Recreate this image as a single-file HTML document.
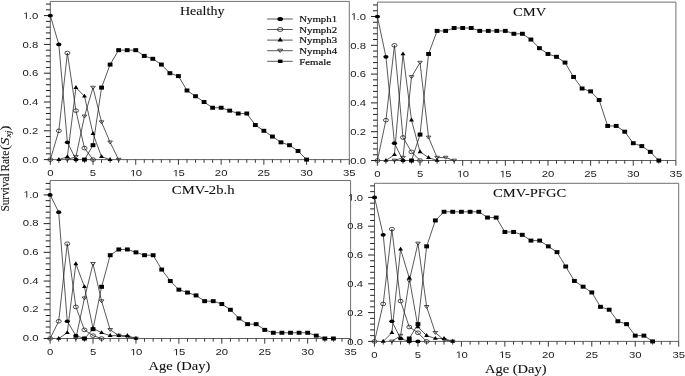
<!DOCTYPE html>
<html><head><meta charset="utf-8"><style>
html,body{margin:0;padding:0;background:#fff;}
body{width:685px;height:376px;overflow:hidden;}
svg{display:block;filter:grayscale(100%);}
.tk{font-family:"Liberation Sans",sans-serif;font-size:9.3px;fill:#222;}
.sf{font-family:"Liberation Serif",serif;font-size:12.6px;fill:#111;stroke:#111;stroke-width:0.1px;}
.lg{font-family:"Liberation Serif",serif;font-size:9.1px;fill:#111;stroke:#111;stroke-width:0.2px;}
</style></head><body>
<svg width="685" height="376" viewBox="0 0 685 376">
<rect width="685" height="376" fill="#fff"/>
<path d="M50.3 1.4H349.3V159.6" fill="none" stroke="#707070" stroke-width="1"/>
<path d="M50.3 1.4V159.6H349.3" fill="none" stroke="#606060" stroke-width="1"/>
<path d="M43.9 159.6H50.3M45.9 153.84H50.3M45.9 148.08H50.3M45.9 142.32H50.3M45.9 136.56H50.3M43.9 130.8H50.3M45.9 125.04H50.3M45.9 119.28H50.3M45.9 113.52H50.3M45.9 107.76H50.3M43.9 102H50.3M45.9 96.24H50.3M45.9 90.48H50.3M45.9 84.72H50.3M45.9 78.96H50.3M43.9 73.2H50.3M45.9 67.44H50.3M45.9 61.68H50.3M45.9 55.92H50.3M45.9 50.16H50.3M43.9 44.4H50.3M45.9 38.64H50.3M45.9 32.88H50.3M45.9 27.12H50.3M45.9 21.36H50.3M43.9 15.6H50.3M45.9 9.84H50.3M45.9 4.08H50.3" stroke="#222" stroke-width="1"/>
<path d="M50.3 159.6V164.8M58.84 159.6V162.8M67.39 159.6V162.8M75.93 159.6V162.8M84.47 159.6V162.8M93.01 159.6V164.8M101.56 159.6V162.8M110.1 159.6V162.8M118.64 159.6V162.8M127.19 159.6V162.8M135.73 159.6V164.8M144.27 159.6V162.8M152.81 159.6V162.8M161.36 159.6V162.8M169.9 159.6V162.8M178.44 159.6V164.8M186.99 159.6V162.8M195.53 159.6V162.8M204.07 159.6V162.8M212.61 159.6V162.8M221.16 159.6V164.8M229.7 159.6V162.8M238.24 159.6V162.8M246.79 159.6V162.8M255.33 159.6V162.8M263.87 159.6V164.8M272.41 159.6V162.8M280.96 159.6V162.8M289.5 159.6V162.8M298.04 159.6V162.8M306.59 159.6V164.8M315.13 159.6V162.8M323.67 159.6V162.8M332.21 159.6V162.8M340.76 159.6V162.8M349.3 159.6V164.8" stroke="#222" stroke-width="0.9"/>
<text transform="translate(38.2 162.8) scale(1.22 1)" class="tk" text-anchor="end">0.0</text>
<text transform="translate(38.2 134) scale(1.22 1)" class="tk" text-anchor="end">0.2</text>
<text transform="translate(38.2 105.2) scale(1.22 1)" class="tk" text-anchor="end">0.4</text>
<text transform="translate(38.2 76.4) scale(1.22 1)" class="tk" text-anchor="end">0.6</text>
<text transform="translate(38.2 47.6) scale(1.22 1)" class="tk" text-anchor="end">0.8</text>
<text transform="translate(38.2 18.8) scale(1.22 1)" class="tk" text-anchor="end"> .0</text><path transform="translate(22.428 18.800) scale(0.00554 -0.00454)" d="M625 0L806 0L806 1409L640 1409L307 1180L307 1010L625 1237Z" fill="#222"/>
<text transform="translate(50.3 176.3) scale(1.22 1)" class="tk" text-anchor="middle">0</text>
<text transform="translate(93.01 176.3) scale(1.22 1)" class="tk" text-anchor="middle">5</text>
<text transform="translate(135.73 176.3) scale(1.22 1)" class="tk" text-anchor="middle"> 0</text><path transform="translate(129.418 176.300) scale(0.00554 -0.00454)" d="M625 0L806 0L806 1409L640 1409L307 1180L307 1010L625 1237Z" fill="#222"/>
<text transform="translate(178.44 176.3) scale(1.22 1)" class="tk" text-anchor="middle"> 5</text><path transform="translate(172.133 176.300) scale(0.00554 -0.00454)" d="M625 0L806 0L806 1409L640 1409L307 1180L307 1010L625 1237Z" fill="#222"/>
<text transform="translate(221.16 176.3) scale(1.22 1)" class="tk" text-anchor="middle">20</text>
<text transform="translate(263.87 176.3) scale(1.22 1)" class="tk" text-anchor="middle">25</text>
<text transform="translate(306.59 176.3) scale(1.22 1)" class="tk" text-anchor="middle">30</text>
<text transform="translate(349.3 176.3) scale(1.22 1)" class="tk" text-anchor="middle">35</text>
<text transform="translate(202.2 14.8) scale(1.215 1)" class="sf" style="font-size:11.6px" text-anchor="middle">Healthy</text>
<path d="M84.47 159.6L93.01 145.2L101.56 87.6L110.1 64.56L118.64 50.16L127.19 50.16L135.73 50.16L144.27 55.92L152.81 58.8L161.36 64.56L169.9 73.2L178.44 76.08L186.99 90.48L195.53 96.24L204.07 102L212.61 107.76L221.16 107.76L229.7 110.64L238.24 113.52L246.79 113.52L255.33 125.04L263.87 130.8L272.41 136.56L280.96 142.32L289.5 145.2L298.04 150.96L306.59 159.6" fill="none" stroke="#222" stroke-width="0.75"/>
<path d="M67.39 159.6L75.93 156.72L84.47 116.4L93.01 87.6L101.56 122.16L110.1 142.32L118.64 159.6" fill="none" stroke="#222" stroke-width="0.75"/>
<path d="M58.84 159.6L67.39 156.72L75.93 87.6L84.47 96.24L93.01 133.68L101.56 156.72L110.1 159.6" fill="none" stroke="#222" stroke-width="0.75"/>
<path d="M50.3 159.6L58.84 130.8L67.39 53.04L75.93 110.64L84.47 148.08L93.01 159.6" fill="none" stroke="#222" stroke-width="0.75"/>
<path d="M50.3 15.6L58.84 44.4L67.39 142.32L75.93 159.6" fill="none" stroke="#222" stroke-width="0.75"/>
<rect x="82.07" y="157.6" width="4.8" height="4" fill="#000"/>
<rect x="90.61" y="143.2" width="4.8" height="4" fill="#000"/>
<rect x="99.16" y="85.6" width="4.8" height="4" fill="#000"/>
<rect x="107.7" y="62.56" width="4.8" height="4" fill="#000"/>
<rect x="116.24" y="48.16" width="4.8" height="4" fill="#000"/>
<rect x="124.79" y="48.16" width="4.8" height="4" fill="#000"/>
<rect x="133.33" y="48.16" width="4.8" height="4" fill="#000"/>
<rect x="141.87" y="53.92" width="4.8" height="4" fill="#000"/>
<rect x="150.41" y="56.8" width="4.8" height="4" fill="#000"/>
<rect x="158.96" y="62.56" width="4.8" height="4" fill="#000"/>
<rect x="167.5" y="71.2" width="4.8" height="4" fill="#000"/>
<rect x="176.04" y="74.08" width="4.8" height="4" fill="#000"/>
<rect x="184.59" y="88.48" width="4.8" height="4" fill="#000"/>
<rect x="193.13" y="94.24" width="4.8" height="4" fill="#000"/>
<rect x="201.67" y="100" width="4.8" height="4" fill="#000"/>
<rect x="210.21" y="105.76" width="4.8" height="4" fill="#000"/>
<rect x="218.76" y="105.76" width="4.8" height="4" fill="#000"/>
<rect x="227.3" y="108.64" width="4.8" height="4" fill="#000"/>
<rect x="235.84" y="111.52" width="4.8" height="4" fill="#000"/>
<rect x="244.39" y="111.52" width="4.8" height="4" fill="#000"/>
<rect x="252.93" y="123.04" width="4.8" height="4" fill="#000"/>
<rect x="261.47" y="128.8" width="4.8" height="4" fill="#000"/>
<rect x="270.01" y="134.56" width="4.8" height="4" fill="#000"/>
<rect x="278.56" y="140.32" width="4.8" height="4" fill="#000"/>
<rect x="287.1" y="143.2" width="4.8" height="4" fill="#000"/>
<rect x="295.64" y="148.96" width="4.8" height="4" fill="#000"/>
<rect x="304.19" y="157.6" width="4.8" height="4" fill="#000"/>
<path d="M65.09 158.27L69.69 158.27L67.39 161.23Z" fill="none" stroke="#222" stroke-width="0.8"/>
<path d="M73.63 155.39L78.23 155.39L75.93 158.35Z" fill="none" stroke="#222" stroke-width="0.8"/>
<path d="M82.17 115.07L86.77 115.07L84.47 118.03Z" fill="none" stroke="#222" stroke-width="0.8"/>
<path d="M90.71 86.27L95.31 86.27L93.01 89.23Z" fill="none" stroke="#222" stroke-width="0.8"/>
<path d="M99.26 120.83L103.86 120.83L101.56 123.79Z" fill="none" stroke="#222" stroke-width="0.8"/>
<path d="M107.8 140.99L112.4 140.99L110.1 143.95Z" fill="none" stroke="#222" stroke-width="0.8"/>
<path d="M116.34 158.27L120.94 158.27L118.64 161.23Z" fill="none" stroke="#222" stroke-width="0.8"/>
<path d="M58.84 157.04L61.31 160.92L56.37 160.92Z" fill="#000"/>
<path d="M67.39 154.16L69.86 158.04L64.92 158.04Z" fill="#000"/>
<path d="M75.93 85.04L78.4 88.92L73.46 88.92Z" fill="#000"/>
<path d="M84.47 93.68L86.94 97.56L82 97.56Z" fill="#000"/>
<path d="M93.01 131.12L95.48 135L90.54 135Z" fill="#000"/>
<path d="M101.56 154.16L104.03 158.04L99.09 158.04Z" fill="#000"/>
<path d="M110.1 157.04L112.57 160.92L107.63 160.92Z" fill="#000"/>
<ellipse cx="50.3" cy="159.6" rx="2.55" ry="1.8" fill="none" stroke="#222" stroke-width="0.8"/>
<ellipse cx="58.84" cy="130.8" rx="2.55" ry="1.8" fill="none" stroke="#222" stroke-width="0.8"/>
<ellipse cx="67.39" cy="53.04" rx="2.55" ry="1.8" fill="none" stroke="#222" stroke-width="0.8"/>
<ellipse cx="75.93" cy="110.64" rx="2.55" ry="1.8" fill="none" stroke="#222" stroke-width="0.8"/>
<ellipse cx="84.47" cy="148.08" rx="2.55" ry="1.8" fill="none" stroke="#222" stroke-width="0.8"/>
<ellipse cx="93.01" cy="159.6" rx="2.55" ry="1.8" fill="none" stroke="#222" stroke-width="0.8"/>
<ellipse cx="50.3" cy="15.6" rx="2.6" ry="1.85" fill="#000"/>
<ellipse cx="58.84" cy="44.4" rx="2.6" ry="1.85" fill="#000"/>
<ellipse cx="67.39" cy="142.32" rx="2.6" ry="1.85" fill="#000"/>
<ellipse cx="75.93" cy="159.6" rx="2.6" ry="1.85" fill="#000"/>
<path d="M377.4 2.1H675.9V160.5" fill="none" stroke="#707070" stroke-width="1"/>
<path d="M377.4 2.1V160.5H675.9" fill="none" stroke="#606060" stroke-width="1"/>
<path d="M371 160.5H377.4M373 154.74H377.4M373 148.98H377.4M373 143.22H377.4M373 137.46H377.4M371 131.7H377.4M373 125.94H377.4M373 120.18H377.4M373 114.42H377.4M373 108.66H377.4M371 102.9H377.4M373 97.14H377.4M373 91.38H377.4M373 85.62H377.4M373 79.86H377.4M371 74.1H377.4M373 68.34H377.4M373 62.58H377.4M373 56.82H377.4M373 51.06H377.4M371 45.3H377.4M373 39.54H377.4M373 33.78H377.4M373 28.02H377.4M373 22.26H377.4M371 16.5H377.4M373 10.74H377.4M373 4.98H377.4" stroke="#222" stroke-width="1"/>
<path d="M377.4 160.5V165.7M385.93 160.5V163.7M394.46 160.5V163.7M402.99 160.5V163.7M411.51 160.5V163.7M420.04 160.5V165.7M428.57 160.5V163.7M437.1 160.5V163.7M445.63 160.5V163.7M454.16 160.5V163.7M462.69 160.5V165.7M471.21 160.5V163.7M479.74 160.5V163.7M488.27 160.5V163.7M496.8 160.5V163.7M505.33 160.5V165.7M513.86 160.5V163.7M522.39 160.5V163.7M530.91 160.5V163.7M539.44 160.5V163.7M547.97 160.5V165.7M556.5 160.5V163.7M565.03 160.5V163.7M573.56 160.5V163.7M582.09 160.5V163.7M590.61 160.5V165.7M599.14 160.5V163.7M607.67 160.5V163.7M616.2 160.5V163.7M624.73 160.5V163.7M633.26 160.5V165.7M641.79 160.5V163.7M650.31 160.5V163.7M658.84 160.5V163.7M667.37 160.5V163.7M675.9 160.5V165.7" stroke="#222" stroke-width="0.9"/>
<text transform="translate(366 163.7) scale(1.22 1)" class="tk" text-anchor="end">0.0</text>
<text transform="translate(366 134.9) scale(1.22 1)" class="tk" text-anchor="end">0.2</text>
<text transform="translate(366 106.1) scale(1.22 1)" class="tk" text-anchor="end">0.4</text>
<text transform="translate(366 77.3) scale(1.22 1)" class="tk" text-anchor="end">0.6</text>
<text transform="translate(366 48.5) scale(1.22 1)" class="tk" text-anchor="end">0.8</text>
<text transform="translate(366 19.7) scale(1.22 1)" class="tk" text-anchor="end"> .0</text><path transform="translate(350.228 19.700) scale(0.00554 -0.00454)" d="M625 0L806 0L806 1409L640 1409L307 1180L307 1010L625 1237Z" fill="#222"/>
<text transform="translate(377.4 177.2) scale(1.22 1)" class="tk" text-anchor="middle">0</text>
<text transform="translate(420.04 177.2) scale(1.22 1)" class="tk" text-anchor="middle">5</text>
<text transform="translate(462.69 177.2) scale(1.22 1)" class="tk" text-anchor="middle"> 0</text><path transform="translate(456.376 177.200) scale(0.00554 -0.00454)" d="M625 0L806 0L806 1409L640 1409L307 1180L307 1010L625 1237Z" fill="#222"/>
<text transform="translate(505.33 177.2) scale(1.22 1)" class="tk" text-anchor="middle"> 5</text><path transform="translate(499.018 177.200) scale(0.00554 -0.00454)" d="M625 0L806 0L806 1409L640 1409L307 1180L307 1010L625 1237Z" fill="#222"/>
<text transform="translate(547.97 177.2) scale(1.22 1)" class="tk" text-anchor="middle">20</text>
<text transform="translate(590.61 177.2) scale(1.22 1)" class="tk" text-anchor="middle">25</text>
<text transform="translate(633.26 177.2) scale(1.22 1)" class="tk" text-anchor="middle">30</text>
<text transform="translate(675.9 177.2) scale(1.22 1)" class="tk" text-anchor="middle">35</text>
<text transform="translate(529.6 16.1) scale(1.155 1)" class="sf" style="font-size:12.6px" text-anchor="middle">CMV</text>
<path d="M411.51 160.5L420.04 134.58L428.57 53.94L437.1 30.9L445.63 30.9L454.16 28.02L462.69 28.02L471.21 28.02L479.74 30.9L488.27 30.9L496.8 30.9L505.33 30.9L513.86 33.78L522.39 33.78L530.91 39.54L539.44 48.18L547.97 53.94L556.5 56.82L565.03 62.58L573.56 76.98L582.09 88.5L590.61 91.38L599.14 100.02L607.67 125.94L616.2 125.94L624.73 131.7L633.26 143.22L641.79 146.1L650.31 151.86L658.84 160.5" fill="none" stroke="#222" stroke-width="0.75"/>
<path d="M394.46 160.5L402.99 157.62L411.51 76.98L420.04 62.58L428.57 137.46L437.1 157.62L445.63 157.62L454.16 160.5" fill="none" stroke="#222" stroke-width="0.75"/>
<path d="M385.93 160.5L394.46 154.74L402.99 53.94L411.51 120.18L420.04 151.86L428.57 157.62L437.1 160.5" fill="none" stroke="#222" stroke-width="0.75"/>
<path d="M377.4 160.5L385.93 120.18L394.46 45.3L402.99 137.46L411.51 151.86L420.04 160.5" fill="none" stroke="#222" stroke-width="0.75"/>
<path d="M377.4 16.5L385.93 56.82L394.46 143.22L402.99 160.5" fill="none" stroke="#222" stroke-width="0.75"/>
<rect x="409.11" y="158.5" width="4.8" height="4" fill="#000"/>
<rect x="417.64" y="132.58" width="4.8" height="4" fill="#000"/>
<rect x="426.17" y="51.94" width="4.8" height="4" fill="#000"/>
<rect x="434.7" y="28.9" width="4.8" height="4" fill="#000"/>
<rect x="443.23" y="28.9" width="4.8" height="4" fill="#000"/>
<rect x="451.76" y="26.02" width="4.8" height="4" fill="#000"/>
<rect x="460.29" y="26.02" width="4.8" height="4" fill="#000"/>
<rect x="468.81" y="26.02" width="4.8" height="4" fill="#000"/>
<rect x="477.34" y="28.9" width="4.8" height="4" fill="#000"/>
<rect x="485.87" y="28.9" width="4.8" height="4" fill="#000"/>
<rect x="494.4" y="28.9" width="4.8" height="4" fill="#000"/>
<rect x="502.93" y="28.9" width="4.8" height="4" fill="#000"/>
<rect x="511.46" y="31.78" width="4.8" height="4" fill="#000"/>
<rect x="519.99" y="31.78" width="4.8" height="4" fill="#000"/>
<rect x="528.51" y="37.54" width="4.8" height="4" fill="#000"/>
<rect x="537.04" y="46.18" width="4.8" height="4" fill="#000"/>
<rect x="545.57" y="51.94" width="4.8" height="4" fill="#000"/>
<rect x="554.1" y="54.82" width="4.8" height="4" fill="#000"/>
<rect x="562.63" y="60.58" width="4.8" height="4" fill="#000"/>
<rect x="571.16" y="74.98" width="4.8" height="4" fill="#000"/>
<rect x="579.69" y="86.5" width="4.8" height="4" fill="#000"/>
<rect x="588.21" y="89.38" width="4.8" height="4" fill="#000"/>
<rect x="596.74" y="98.02" width="4.8" height="4" fill="#000"/>
<rect x="605.27" y="123.94" width="4.8" height="4" fill="#000"/>
<rect x="613.8" y="123.94" width="4.8" height="4" fill="#000"/>
<rect x="622.33" y="129.7" width="4.8" height="4" fill="#000"/>
<rect x="630.86" y="141.22" width="4.8" height="4" fill="#000"/>
<rect x="639.39" y="144.1" width="4.8" height="4" fill="#000"/>
<rect x="647.91" y="149.86" width="4.8" height="4" fill="#000"/>
<rect x="656.44" y="158.5" width="4.8" height="4" fill="#000"/>
<path d="M392.16 159.17L396.76 159.17L394.46 162.13Z" fill="none" stroke="#222" stroke-width="0.8"/>
<path d="M400.69 156.29L405.29 156.29L402.99 159.25Z" fill="none" stroke="#222" stroke-width="0.8"/>
<path d="M409.21 75.65L413.81 75.65L411.51 78.61Z" fill="none" stroke="#222" stroke-width="0.8"/>
<path d="M417.74 61.25L422.34 61.25L420.04 64.21Z" fill="none" stroke="#222" stroke-width="0.8"/>
<path d="M426.27 136.13L430.87 136.13L428.57 139.09Z" fill="none" stroke="#222" stroke-width="0.8"/>
<path d="M434.8 156.29L439.4 156.29L437.1 159.25Z" fill="none" stroke="#222" stroke-width="0.8"/>
<path d="M443.33 156.29L447.93 156.29L445.63 159.25Z" fill="none" stroke="#222" stroke-width="0.8"/>
<path d="M451.86 159.17L456.46 159.17L454.16 162.13Z" fill="none" stroke="#222" stroke-width="0.8"/>
<path d="M385.93 157.94L388.4 161.82L383.46 161.82Z" fill="#000"/>
<path d="M394.46 152.18L396.93 156.06L391.99 156.06Z" fill="#000"/>
<path d="M402.99 51.38L405.46 55.26L400.52 55.26Z" fill="#000"/>
<path d="M411.51 117.62L413.98 121.5L409.04 121.5Z" fill="#000"/>
<path d="M420.04 149.3L422.51 153.18L417.57 153.18Z" fill="#000"/>
<path d="M428.57 155.06L431.04 158.94L426.1 158.94Z" fill="#000"/>
<path d="M437.1 157.94L439.57 161.82L434.63 161.82Z" fill="#000"/>
<ellipse cx="377.4" cy="160.5" rx="2.55" ry="1.8" fill="none" stroke="#222" stroke-width="0.8"/>
<ellipse cx="385.93" cy="120.18" rx="2.55" ry="1.8" fill="none" stroke="#222" stroke-width="0.8"/>
<ellipse cx="394.46" cy="45.3" rx="2.55" ry="1.8" fill="none" stroke="#222" stroke-width="0.8"/>
<ellipse cx="402.99" cy="137.46" rx="2.55" ry="1.8" fill="none" stroke="#222" stroke-width="0.8"/>
<ellipse cx="411.51" cy="151.86" rx="2.55" ry="1.8" fill="none" stroke="#222" stroke-width="0.8"/>
<ellipse cx="420.04" cy="160.5" rx="2.55" ry="1.8" fill="none" stroke="#222" stroke-width="0.8"/>
<ellipse cx="377.4" cy="16.5" rx="2.6" ry="1.85" fill="#000"/>
<ellipse cx="385.93" cy="56.82" rx="2.6" ry="1.85" fill="#000"/>
<ellipse cx="394.46" cy="143.22" rx="2.6" ry="1.85" fill="#000"/>
<ellipse cx="402.99" cy="160.5" rx="2.6" ry="1.85" fill="#000"/>
<path d="M50.1 180.5H350.6V338.5" fill="none" stroke="#707070" stroke-width="1"/>
<path d="M50.1 180.5V338.5H350.6" fill="none" stroke="#606060" stroke-width="1"/>
<path d="M43.7 338.5H50.1M45.7 332.76H50.1M45.7 327.01H50.1M45.7 321.27H50.1M45.7 315.52H50.1M43.7 309.78H50.1M45.7 304.04H50.1M45.7 298.29H50.1M45.7 292.55H50.1M45.7 286.8H50.1M43.7 281.06H50.1M45.7 275.32H50.1M45.7 269.57H50.1M45.7 263.83H50.1M45.7 258.08H50.1M43.7 252.34H50.1M45.7 246.6H50.1M45.7 240.85H50.1M45.7 235.11H50.1M45.7 229.36H50.1M43.7 223.62H50.1M45.7 217.88H50.1M45.7 212.13H50.1M45.7 206.39H50.1M45.7 200.64H50.1M43.7 194.9H50.1M45.7 189.16H50.1M45.7 183.41H50.1" stroke="#222" stroke-width="1"/>
<path d="M50.1 338.5V343.7M58.69 338.5V341.7M67.27 338.5V341.7M75.86 338.5V341.7M84.44 338.5V341.7M93.03 338.5V343.7M101.61 338.5V341.7M110.2 338.5V341.7M118.79 338.5V341.7M127.37 338.5V341.7M135.96 338.5V343.7M144.54 338.5V341.7M153.13 338.5V341.7M161.71 338.5V341.7M170.3 338.5V341.7M178.89 338.5V343.7M187.47 338.5V341.7M196.06 338.5V341.7M204.64 338.5V341.7M213.23 338.5V341.7M221.81 338.5V343.7M230.4 338.5V341.7M238.99 338.5V341.7M247.57 338.5V341.7M256.16 338.5V341.7M264.74 338.5V343.7M273.33 338.5V341.7M281.91 338.5V341.7M290.5 338.5V341.7M299.09 338.5V341.7M307.67 338.5V343.7M316.26 338.5V341.7M324.84 338.5V341.7M333.43 338.5V341.7M342.01 338.5V341.7M350.6 338.5V343.7" stroke="#222" stroke-width="0.9"/>
<text transform="translate(38.6 341.2) scale(1.22 1)" class="tk" text-anchor="end">0.0</text>
<text transform="translate(38.6 312.48) scale(1.22 1)" class="tk" text-anchor="end">0.2</text>
<text transform="translate(38.6 283.76) scale(1.22 1)" class="tk" text-anchor="end">0.4</text>
<text transform="translate(38.6 255.04) scale(1.22 1)" class="tk" text-anchor="end">0.6</text>
<text transform="translate(38.6 226.32) scale(1.22 1)" class="tk" text-anchor="end">0.8</text>
<text transform="translate(38.6 197.6) scale(1.22 1)" class="tk" text-anchor="end"> .0</text><path transform="translate(22.828 197.600) scale(0.00554 -0.00454)" d="M625 0L806 0L806 1409L640 1409L307 1180L307 1010L625 1237Z" fill="#222"/>
<text transform="translate(50.1 355.3) scale(1.22 1)" class="tk" text-anchor="middle">0</text>
<text transform="translate(93.03 355.3) scale(1.22 1)" class="tk" text-anchor="middle">5</text>
<text transform="translate(135.96 355.3) scale(1.22 1)" class="tk" text-anchor="middle"> 0</text><path transform="translate(129.647 355.300) scale(0.00554 -0.00454)" d="M625 0L806 0L806 1409L640 1409L307 1180L307 1010L625 1237Z" fill="#222"/>
<text transform="translate(178.89 355.3) scale(1.22 1)" class="tk" text-anchor="middle"> 5</text><path transform="translate(172.576 355.300) scale(0.00554 -0.00454)" d="M625 0L806 0L806 1409L640 1409L307 1180L307 1010L625 1237Z" fill="#222"/>
<text transform="translate(221.81 355.3) scale(1.22 1)" class="tk" text-anchor="middle">20</text>
<text transform="translate(264.74 355.3) scale(1.22 1)" class="tk" text-anchor="middle">25</text>
<text transform="translate(307.67 355.3) scale(1.22 1)" class="tk" text-anchor="middle">30</text>
<text transform="translate(350.6 355.3) scale(1.22 1)" class="tk" text-anchor="middle">35</text>
<text transform="translate(203.2 194) scale(1.166 1)" class="sf" style="font-size:12.6px" text-anchor="middle">CMV-2b.h</text>
<path d="M84.44 338.5L93.03 329.17L101.61 286.8L110.2 255.21L118.79 249.47L127.37 249.47L135.96 252.34L144.54 255.21L153.13 255.21L161.71 269.57L170.3 281.06L178.89 289.68L187.47 292.55L196.06 295.42L204.64 301.16L213.23 301.16L221.81 304.04L230.4 309.78L238.99 318.4L247.57 324.14L256.16 324.14L264.74 329.88L273.33 332.76L281.91 332.76L290.5 332.76L299.09 332.76L307.67 332.76L316.26 335.63L324.84 338.5L333.43 338.5" fill="none" stroke="#222" stroke-width="0.75"/>
<path d="M75.86 338.5L84.44 298.29L93.03 263.83L101.61 301.16L110.2 329.88L118.79 335.63L127.37 337.06L135.96 338.5" fill="none" stroke="#222" stroke-width="0.75"/>
<path d="M58.69 338.5L67.27 332.76L75.86 263.83L84.44 286.8L93.03 328.45L101.61 332.76L110.2 335.63L118.79 335.63L127.37 335.63L135.96 338.5" fill="none" stroke="#222" stroke-width="0.75"/>
<path d="M50.1 338.5L58.69 321.27L67.27 243.72L75.86 306.91L84.44 329.88L93.03 335.63L101.61 338.5" fill="none" stroke="#222" stroke-width="0.75"/>
<path d="M50.1 194.9L58.69 212.13L67.27 321.27L75.86 335.63L84.44 338.5" fill="none" stroke="#222" stroke-width="0.75"/>
<rect x="82.04" y="336.5" width="4.8" height="4" fill="#000"/>
<rect x="90.63" y="327.17" width="4.8" height="4" fill="#000"/>
<rect x="99.21" y="284.8" width="4.8" height="4" fill="#000"/>
<rect x="107.8" y="253.21" width="4.8" height="4" fill="#000"/>
<rect x="116.39" y="247.47" width="4.8" height="4" fill="#000"/>
<rect x="124.97" y="247.47" width="4.8" height="4" fill="#000"/>
<rect x="133.56" y="250.34" width="4.8" height="4" fill="#000"/>
<rect x="142.14" y="253.21" width="4.8" height="4" fill="#000"/>
<rect x="150.73" y="253.21" width="4.8" height="4" fill="#000"/>
<rect x="159.31" y="267.57" width="4.8" height="4" fill="#000"/>
<rect x="167.9" y="279.06" width="4.8" height="4" fill="#000"/>
<rect x="176.49" y="287.68" width="4.8" height="4" fill="#000"/>
<rect x="185.07" y="290.55" width="4.8" height="4" fill="#000"/>
<rect x="193.66" y="293.42" width="4.8" height="4" fill="#000"/>
<rect x="202.24" y="299.16" width="4.8" height="4" fill="#000"/>
<rect x="210.83" y="299.16" width="4.8" height="4" fill="#000"/>
<rect x="219.41" y="302.04" width="4.8" height="4" fill="#000"/>
<rect x="228" y="307.78" width="4.8" height="4" fill="#000"/>
<rect x="236.59" y="316.4" width="4.8" height="4" fill="#000"/>
<rect x="245.17" y="322.14" width="4.8" height="4" fill="#000"/>
<rect x="253.76" y="322.14" width="4.8" height="4" fill="#000"/>
<rect x="262.34" y="327.88" width="4.8" height="4" fill="#000"/>
<rect x="270.93" y="330.76" width="4.8" height="4" fill="#000"/>
<rect x="279.51" y="330.76" width="4.8" height="4" fill="#000"/>
<rect x="288.1" y="330.76" width="4.8" height="4" fill="#000"/>
<rect x="296.69" y="330.76" width="4.8" height="4" fill="#000"/>
<rect x="305.27" y="330.76" width="4.8" height="4" fill="#000"/>
<rect x="313.86" y="333.63" width="4.8" height="4" fill="#000"/>
<rect x="322.44" y="336.5" width="4.8" height="4" fill="#000"/>
<rect x="331.03" y="336.5" width="4.8" height="4" fill="#000"/>
<path d="M73.56 337.17L78.16 337.17L75.86 340.13Z" fill="none" stroke="#222" stroke-width="0.8"/>
<path d="M82.14 296.96L86.74 296.96L84.44 299.92Z" fill="none" stroke="#222" stroke-width="0.8"/>
<path d="M90.73 262.5L95.33 262.5L93.03 265.46Z" fill="none" stroke="#222" stroke-width="0.8"/>
<path d="M99.31 299.83L103.91 299.83L101.61 302.79Z" fill="none" stroke="#222" stroke-width="0.8"/>
<path d="M107.9 328.55L112.5 328.55L110.2 331.51Z" fill="none" stroke="#222" stroke-width="0.8"/>
<path d="M116.49 334.3L121.09 334.3L118.79 337.26Z" fill="none" stroke="#222" stroke-width="0.8"/>
<path d="M125.07 335.73L129.67 335.73L127.37 338.69Z" fill="none" stroke="#222" stroke-width="0.8"/>
<path d="M133.66 337.17L138.26 337.17L135.96 340.13Z" fill="none" stroke="#222" stroke-width="0.8"/>
<path d="M58.69 335.94L61.16 339.82L56.22 339.82Z" fill="#000"/>
<path d="M67.27 330.19L69.74 334.08L64.8 334.08Z" fill="#000"/>
<path d="M75.86 261.26L78.33 265.15L73.39 265.15Z" fill="#000"/>
<path d="M84.44 284.24L86.91 288.12L81.97 288.12Z" fill="#000"/>
<path d="M93.03 325.88L95.5 329.77L90.56 329.77Z" fill="#000"/>
<path d="M101.61 330.19L104.08 334.08L99.14 334.08Z" fill="#000"/>
<path d="M110.2 333.06L112.67 336.95L107.73 336.95Z" fill="#000"/>
<path d="M118.79 333.06L121.26 336.95L116.32 336.95Z" fill="#000"/>
<path d="M127.37 333.06L129.84 336.95L124.9 336.95Z" fill="#000"/>
<path d="M135.96 335.94L138.43 339.82L133.49 339.82Z" fill="#000"/>
<ellipse cx="50.1" cy="338.5" rx="2.55" ry="1.8" fill="none" stroke="#222" stroke-width="0.8"/>
<ellipse cx="58.69" cy="321.27" rx="2.55" ry="1.8" fill="none" stroke="#222" stroke-width="0.8"/>
<ellipse cx="67.27" cy="243.72" rx="2.55" ry="1.8" fill="none" stroke="#222" stroke-width="0.8"/>
<ellipse cx="75.86" cy="306.91" rx="2.55" ry="1.8" fill="none" stroke="#222" stroke-width="0.8"/>
<ellipse cx="84.44" cy="329.88" rx="2.55" ry="1.8" fill="none" stroke="#222" stroke-width="0.8"/>
<ellipse cx="93.03" cy="335.63" rx="2.55" ry="1.8" fill="none" stroke="#222" stroke-width="0.8"/>
<ellipse cx="101.61" cy="338.5" rx="2.55" ry="1.8" fill="none" stroke="#222" stroke-width="0.8"/>
<ellipse cx="50.1" cy="194.9" rx="2.6" ry="1.85" fill="#000"/>
<ellipse cx="58.69" cy="212.13" rx="2.6" ry="1.85" fill="#000"/>
<ellipse cx="67.27" cy="321.27" rx="2.6" ry="1.85" fill="#000"/>
<ellipse cx="75.86" cy="335.63" rx="2.6" ry="1.85" fill="#000"/>
<ellipse cx="84.44" cy="338.5" rx="2.6" ry="1.85" fill="#000"/>
<path d="M374.5 183.3H678.7V341.4" fill="none" stroke="#707070" stroke-width="1"/>
<path d="M374.5 183.3V341.4H678.7" fill="none" stroke="#606060" stroke-width="1"/>
<path d="M368.1 341.4H374.5M370.1 335.64H374.5M370.1 329.88H374.5M370.1 324.12H374.5M370.1 318.36H374.5M368.1 312.6H374.5M370.1 306.84H374.5M370.1 301.08H374.5M370.1 295.32H374.5M370.1 289.56H374.5M368.1 283.8H374.5M370.1 278.04H374.5M370.1 272.28H374.5M370.1 266.52H374.5M370.1 260.76H374.5M368.1 255H374.5M370.1 249.24H374.5M370.1 243.48H374.5M370.1 237.72H374.5M370.1 231.96H374.5M368.1 226.2H374.5M370.1 220.44H374.5M370.1 214.68H374.5M370.1 208.92H374.5M370.1 203.16H374.5M368.1 197.4H374.5M370.1 191.64H374.5M370.1 185.88H374.5" stroke="#222" stroke-width="1"/>
<path d="M374.5 341.4V346.6M383.19 341.4V344.6M391.88 341.4V344.6M400.57 341.4V344.6M409.27 341.4V344.6M417.96 341.4V346.6M426.65 341.4V344.6M435.34 341.4V344.6M444.03 341.4V344.6M452.72 341.4V344.6M461.41 341.4V346.6M470.11 341.4V344.6M478.8 341.4V344.6M487.49 341.4V344.6M496.18 341.4V344.6M504.87 341.4V346.6M513.56 341.4V344.6M522.25 341.4V344.6M530.95 341.4V344.6M539.64 341.4V344.6M548.33 341.4V346.6M557.02 341.4V344.6M565.71 341.4V344.6M574.4 341.4V344.6M583.09 341.4V344.6M591.79 341.4V346.6M600.48 341.4V344.6M609.17 341.4V344.6M617.86 341.4V344.6M626.55 341.4V344.6M635.24 341.4V346.6M643.93 341.4V344.6M652.63 341.4V344.6M661.32 341.4V344.6M670.01 341.4V344.6M678.7 341.4V346.6" stroke="#222" stroke-width="0.9"/>
<text transform="translate(363.1 344.6) scale(1.22 1)" class="tk" text-anchor="end">0.0</text>
<text transform="translate(363.1 315.8) scale(1.22 1)" class="tk" text-anchor="end">0.2</text>
<text transform="translate(363.1 287) scale(1.22 1)" class="tk" text-anchor="end">0.4</text>
<text transform="translate(363.1 258.2) scale(1.22 1)" class="tk" text-anchor="end">0.6</text>
<text transform="translate(363.1 229.4) scale(1.22 1)" class="tk" text-anchor="end">0.8</text>
<text transform="translate(363.1 200.6) scale(1.22 1)" class="tk" text-anchor="end"> .0</text><path transform="translate(347.328 200.600) scale(0.00554 -0.00454)" d="M625 0L806 0L806 1409L640 1409L307 1180L307 1010L625 1237Z" fill="#222"/>
<text transform="translate(374.5 357.9) scale(1.22 1)" class="tk" text-anchor="middle">0</text>
<text transform="translate(417.96 357.9) scale(1.22 1)" class="tk" text-anchor="middle">5</text>
<text transform="translate(461.41 357.9) scale(1.22 1)" class="tk" text-anchor="middle"> 0</text><path transform="translate(455.104 357.900) scale(0.00554 -0.00454)" d="M625 0L806 0L806 1409L640 1409L307 1180L307 1010L625 1237Z" fill="#222"/>
<text transform="translate(504.87 357.9) scale(1.22 1)" class="tk" text-anchor="middle"> 5</text><path transform="translate(498.561 357.900) scale(0.00554 -0.00454)" d="M625 0L806 0L806 1409L640 1409L307 1180L307 1010L625 1237Z" fill="#222"/>
<text transform="translate(548.33 357.9) scale(1.22 1)" class="tk" text-anchor="middle">20</text>
<text transform="translate(591.79 357.9) scale(1.22 1)" class="tk" text-anchor="middle">25</text>
<text transform="translate(635.24 357.9) scale(1.22 1)" class="tk" text-anchor="middle">30</text>
<text transform="translate(678.7 357.9) scale(1.22 1)" class="tk" text-anchor="middle">35</text>
<text transform="translate(529.6 197.1) scale(1.155 1)" class="sf" style="font-size:12.6px" text-anchor="middle">CMV-PFGC</text>
<path d="M409.27 338.52L417.96 324.12L426.65 246.36L435.34 220.44L444.03 211.8L452.72 211.8L461.41 211.8L470.11 211.8L478.8 211.8L487.49 217.56L496.18 217.56L504.87 231.96L513.56 231.96L522.25 234.84L530.95 240.6L539.64 240.6L548.33 246.36L557.02 252.12L565.71 266.52L574.4 280.92L583.09 286.68L591.79 292.44L600.48 306.84L609.17 309.72L617.86 321.24L626.55 324.12L635.24 335.64L643.93 335.64L652.63 341.4" fill="none" stroke="#222" stroke-width="0.75"/>
<path d="M391.88 341.4L400.57 335.64L409.27 280.92L417.96 243.48L426.65 306.84L435.34 332.76L444.03 339.96L452.72 341.4" fill="none" stroke="#222" stroke-width="0.75"/>
<path d="M383.19 341.4L391.88 332.76L400.57 249.24L409.27 278.04L417.96 327L426.65 335.64L435.34 338.52L444.03 338.52L452.72 341.4" fill="none" stroke="#222" stroke-width="0.75"/>
<path d="M374.5 341.4L383.19 303.96L391.88 229.08L400.57 301.08L409.27 327L417.96 332.76L426.65 341.4" fill="none" stroke="#222" stroke-width="0.75"/>
<path d="M374.5 197.4L383.19 234.84L391.88 321.24L400.57 338.52L409.27 341.4L417.96 341.4" fill="none" stroke="#222" stroke-width="0.75"/>
<rect x="406.87" y="336.52" width="4.8" height="4" fill="#000"/>
<rect x="415.56" y="322.12" width="4.8" height="4" fill="#000"/>
<rect x="424.25" y="244.36" width="4.8" height="4" fill="#000"/>
<rect x="432.94" y="218.44" width="4.8" height="4" fill="#000"/>
<rect x="441.63" y="209.8" width="4.8" height="4" fill="#000"/>
<rect x="450.32" y="209.8" width="4.8" height="4" fill="#000"/>
<rect x="459.01" y="209.8" width="4.8" height="4" fill="#000"/>
<rect x="467.71" y="209.8" width="4.8" height="4" fill="#000"/>
<rect x="476.4" y="209.8" width="4.8" height="4" fill="#000"/>
<rect x="485.09" y="215.56" width="4.8" height="4" fill="#000"/>
<rect x="493.78" y="215.56" width="4.8" height="4" fill="#000"/>
<rect x="502.47" y="229.96" width="4.8" height="4" fill="#000"/>
<rect x="511.16" y="229.96" width="4.8" height="4" fill="#000"/>
<rect x="519.85" y="232.84" width="4.8" height="4" fill="#000"/>
<rect x="528.55" y="238.6" width="4.8" height="4" fill="#000"/>
<rect x="537.24" y="238.6" width="4.8" height="4" fill="#000"/>
<rect x="545.93" y="244.36" width="4.8" height="4" fill="#000"/>
<rect x="554.62" y="250.12" width="4.8" height="4" fill="#000"/>
<rect x="563.31" y="264.52" width="4.8" height="4" fill="#000"/>
<rect x="572" y="278.92" width="4.8" height="4" fill="#000"/>
<rect x="580.69" y="284.68" width="4.8" height="4" fill="#000"/>
<rect x="589.39" y="290.44" width="4.8" height="4" fill="#000"/>
<rect x="598.08" y="304.84" width="4.8" height="4" fill="#000"/>
<rect x="606.77" y="307.72" width="4.8" height="4" fill="#000"/>
<rect x="615.46" y="319.24" width="4.8" height="4" fill="#000"/>
<rect x="624.15" y="322.12" width="4.8" height="4" fill="#000"/>
<rect x="632.84" y="333.64" width="4.8" height="4" fill="#000"/>
<rect x="641.53" y="333.64" width="4.8" height="4" fill="#000"/>
<rect x="650.23" y="339.4" width="4.8" height="4" fill="#000"/>
<path d="M389.58 340.07L394.18 340.07L391.88 343.03Z" fill="none" stroke="#222" stroke-width="0.8"/>
<path d="M398.27 334.31L402.87 334.31L400.57 337.27Z" fill="none" stroke="#222" stroke-width="0.8"/>
<path d="M406.97 279.59L411.57 279.59L409.27 282.55Z" fill="none" stroke="#222" stroke-width="0.8"/>
<path d="M415.66 242.15L420.26 242.15L417.96 245.11Z" fill="none" stroke="#222" stroke-width="0.8"/>
<path d="M424.35 305.51L428.95 305.51L426.65 308.47Z" fill="none" stroke="#222" stroke-width="0.8"/>
<path d="M433.04 331.43L437.64 331.43L435.34 334.39Z" fill="none" stroke="#222" stroke-width="0.8"/>
<path d="M441.73 338.63L446.33 338.63L444.03 341.59Z" fill="none" stroke="#222" stroke-width="0.8"/>
<path d="M450.42 340.07L455.02 340.07L452.72 343.03Z" fill="none" stroke="#222" stroke-width="0.8"/>
<path d="M383.19 338.84L385.66 342.72L380.72 342.72Z" fill="#000"/>
<path d="M391.88 330.2L394.35 334.08L389.41 334.08Z" fill="#000"/>
<path d="M400.57 246.68L403.04 250.56L398.1 250.56Z" fill="#000"/>
<path d="M409.27 275.48L411.74 279.36L406.8 279.36Z" fill="#000"/>
<path d="M417.96 324.44L420.43 328.32L415.49 328.32Z" fill="#000"/>
<path d="M426.65 333.08L429.12 336.96L424.18 336.96Z" fill="#000"/>
<path d="M435.34 335.96L437.81 339.84L432.87 339.84Z" fill="#000"/>
<path d="M444.03 335.96L446.5 339.84L441.56 339.84Z" fill="#000"/>
<path d="M452.72 338.84L455.19 342.72L450.25 342.72Z" fill="#000"/>
<ellipse cx="374.5" cy="341.4" rx="2.55" ry="1.8" fill="none" stroke="#222" stroke-width="0.8"/>
<ellipse cx="383.19" cy="303.96" rx="2.55" ry="1.8" fill="none" stroke="#222" stroke-width="0.8"/>
<ellipse cx="391.88" cy="229.08" rx="2.55" ry="1.8" fill="none" stroke="#222" stroke-width="0.8"/>
<ellipse cx="400.57" cy="301.08" rx="2.55" ry="1.8" fill="none" stroke="#222" stroke-width="0.8"/>
<ellipse cx="409.27" cy="327" rx="2.55" ry="1.8" fill="none" stroke="#222" stroke-width="0.8"/>
<ellipse cx="417.96" cy="332.76" rx="2.55" ry="1.8" fill="none" stroke="#222" stroke-width="0.8"/>
<ellipse cx="426.65" cy="341.4" rx="2.55" ry="1.8" fill="none" stroke="#222" stroke-width="0.8"/>
<ellipse cx="374.5" cy="197.4" rx="2.6" ry="1.85" fill="#000"/>
<ellipse cx="383.19" cy="234.84" rx="2.6" ry="1.85" fill="#000"/>
<ellipse cx="391.88" cy="321.24" rx="2.6" ry="1.85" fill="#000"/>
<ellipse cx="400.57" cy="338.52" rx="2.6" ry="1.85" fill="#000"/>
<ellipse cx="409.27" cy="341.4" rx="2.6" ry="1.85" fill="#000"/>
<ellipse cx="417.96" cy="341.4" rx="2.6" ry="1.85" fill="#000"/>
<path d="M267.2 19H292.7" stroke="#222" stroke-width="0.75"/>
<ellipse cx="280.2" cy="19" rx="2.86" ry="2.04" fill="#000"/>
<text transform="translate(299.2 22.2) scale(1.19 1)" class="lg">Nymph1</text>
<path d="M267.2 29.5H292.7" stroke="#222" stroke-width="0.75"/>
<ellipse cx="280.2" cy="29.5" rx="2.81" ry="1.99" fill="none" stroke="#222" stroke-width="0.8"/>
<text transform="translate(299.2 32.7) scale(1.19 1)" class="lg">Nymph2</text>
<path d="M267.2 40.1H292.7" stroke="#222" stroke-width="0.75"/>
<path d="M280.2 37.28L282.92 41.55L277.48 41.55Z" fill="#000"/>
<text transform="translate(299.2 43.3) scale(1.19 1)" class="lg">Nymph3</text>
<path d="M267.2 50.7H292.7" stroke="#222" stroke-width="0.75"/>
<path d="M277.64 49.23L282.76 49.23L280.2 52.49Z" fill="none" stroke="#222" stroke-width="0.8"/>
<text transform="translate(299.2 53.9) scale(1.19 1)" class="lg">Nymph4</text>
<path d="M267.2 61.3H292.7" stroke="#222" stroke-width="0.75"/>
<rect x="277.9" y="59.6" width="4.6" height="3.4" fill="#000"/>
<text transform="translate(299.2 64.5) scale(1.19 1)" class="lg">Female</text>
<text transform="translate(179.4 370.2) scale(1.23 1)" class="sf" style="font-size:11.8px" text-anchor="middle">Age (Day)</text>
<text transform="translate(515.8 373.0) scale(1.23 1)" class="sf" style="font-size:11.8px" text-anchor="middle">Age (Day)</text>
<text transform="translate(9.2 211.6) rotate(-90)" class="sf" style="font-size:12px" textLength="38.4" lengthAdjust="spacingAndGlyphs">Survival</text>
<text transform="translate(9.2 171.6) rotate(-90)" class="sf" style="font-size:12px" textLength="21" lengthAdjust="spacingAndGlyphs">Rate</text>
<text transform="translate(9.2 149.9) rotate(-90)" class="sf" style="font-size:12px" textLength="24.3" lengthAdjust="spacingAndGlyphs">(<tspan font-style="italic">S</tspan><tspan font-style="italic" style="font-size:8px" dy="2">xj</tspan><tspan dy="-2">)</tspan></text>
</svg>
</body></html>
